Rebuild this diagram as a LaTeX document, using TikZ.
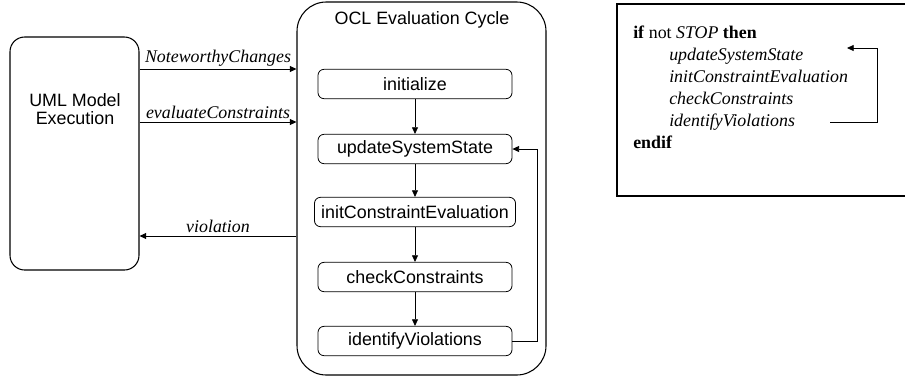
\documentclass[tikz,border=0pt]{standalone}
\usepackage{fontspec}
\setmainfont{Liberation Serif}
\newfontfamily\arialfont{Liberation Sans}
\usetikzlibrary{positioning,calc,arrows.meta}

\begin{document}
\begin{tikzpicture}[x=0.75pt,y=-0.75pt,font=\fontsize{13.4}{16}\selectfont,
  arr/.style={-{Triangle[length=5pt,width=4.5pt]},line width=0.6pt},
  stepbox/.style={draw,rounded corners=4.5pt,line width=0.6pt,minimum width=145.5pt,minimum height=22pt,inner xsep=5pt,font=\arialfont\fontsize{13.4}{16}\selectfont},
  lbl/.style={font=\itshape\fontsize{13.4}{16}\selectfont,inner sep=2pt},
  codeline/.style={anchor=base west,inner sep=0pt}]
\useasboundingbox (0,0) rectangle (905,379);
\clip (0,0) rectangle (905,379);
\node[draw,line width=0.8pt,rounded corners=11pt,minimum width=96.75pt,minimum height=174.75pt] (uml) at (74.5,153.5) {};
\node[align=center,font=\arialfont\fontsize{13.4}{14}\selectfont] (umltext) at (75,109) {UML Model\\Execution};
\node[draw,line width=0.8pt,rounded corners=22pt,minimum width=186.75pt,minimum height=279.75pt] (ocl) at (421.5,188.5) {};
\node[font=\arialfont\fontsize{13.4}{16}\selectfont] (ocltitle) at (422,20) {OCL Evaluation Cycle};
\node[stepbox] (init) at (415,84) {initialize};
\node[stepbox] (update) at (415,149) {updateSystemState};
\node[stepbox] (initce) at (415,212) {initConstraintEvaluation};
\node[stepbox] (check) at (415,277) {checkConstraints};
\node[stepbox] (ident) at (415,341) {identifyViolations};
\draw[arr] (init) -- (update);
\draw[arr] (update) -- (initce);
\draw[arr] (initce) -- (check);
\draw[arr] (check) -- (ident);
\draw[arr] (ident.east) -- ++(25,0) |- (update.east);
\coordinate (nc) at (0,69);
\coordinate (ec) at (0,122);
\coordinate (vc) at (0,236);
\draw[arr] (uml.east |- nc) -- node[lbl,above] {NoteworthyChanges} (ocl.west |- nc);
\draw[arr] (uml.east |- ec) -- node[lbl,above] {evaluateConstraints} (ocl.west |- ec);
\draw[arr] (ocl.west |- vc) -- node[lbl,above] {violation} (uml.east |- vc);
\draw[line width=0.8pt] (617,4) rectangle (920,196);
\node[codeline] (cif) at (633,38) {\textbf{if} not \textit{STOP} \textbf{then}};
\node[codeline] (cupdate) at (669,60) {\textit{updateSystemState}};
\node[codeline] (cinit) at (669,82) {\textit{initConstraintEvaluation}};
\node[codeline] (ccheck) at (669,104) {\textit{checkConstraints}};
\node[codeline] (cident) at (669,126) {\textit{identifyViolations}};
\node[codeline] (cendif) at (633,148) {\textbf{endif}};
\coordinate (lpstart) at (830,122);
\coordinate (lpend) at (847,48);
\draw[arr] (lpstart) -- (877,122) |- (lpend);
\end{tikzpicture}
\end{document}
